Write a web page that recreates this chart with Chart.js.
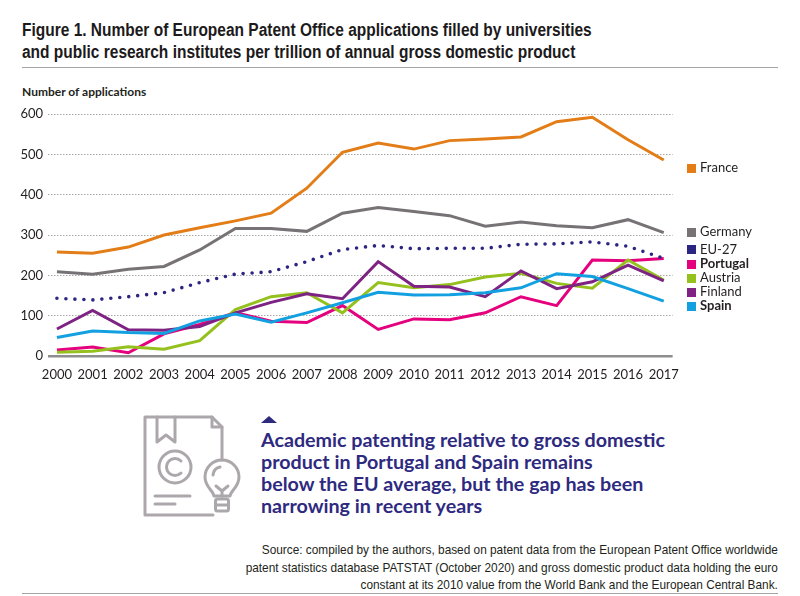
<!DOCTYPE html>
<html>
<head>
<meta charset="utf-8">
<script src="https://cdn.jsdelivr.net/npm/chart.js@4.4.1/dist/chart.umd.min.js"></script>
<style>
  html, body { margin: 0; padding: 0; background: #fff; }
  #page { position: relative; width: 800px; height: 596px; overflow: hidden; font-family: Lato, sans-serif; color: #231f20; }
  .abs { position: absolute; }
  /* no condensed face installed, so squeeze the regular one */
  #title { left: 22px; top: 19px; font-family: 'Liberation Sans', sans-serif; font-weight: bold; font-size: 17.5px; line-height: 22px; color: #1c1a1b; white-space: nowrap; transform: scaleX(0.885); transform-origin: left top; }
  .rule { left: 22px; width: 756px; height: 0; border-top: 1.5px solid #a3a3a3; }
  #ylab { left: 22px; top: 84px; font-weight: bold; font-size: 12px; }
  #wrap { left: 0; top: 100px; width: 690px; height: 290px; }
  .leg { left: 687px; font-size: 13px; line-height: 14px; white-space: nowrap; }
  .leg i { display: inline-block; width: 9px; height: 9px; margin-right: 4px; vertical-align: -0.5px; }
  #callout { left: 261px; top: 429px; font-weight: bold; font-size: 19.7px; line-height: 22px; color: #2e2a80; white-space: nowrap; }
  #source { right: 22px; top: 541px; text-align: right; font-family: 'Liberation Sans', sans-serif; font-size: 13px; line-height: 17.5px; color: #231f20; white-space: nowrap; transform: scaleX(0.91); transform-origin: right top; }
</style>
</head>
<body>
<div id="page">
  <div id="title" class="abs">Figure 1. Number of European Patent Office applications filled by universities<br>and public research institutes per trillion of annual gross domestic product</div>
  <div class="abs rule" style="top:67px"></div>
  <div id="ylab" class="abs">Number of applications</div>
  <div id="wrap" class="abs"><canvas id="chart"></canvas></div>
  <div id="legend"></div>

  <svg class="abs" style="left:138px;top:410px" width="106" height="112" viewBox="138 410 106 112" fill="none" stroke="#aca7ab" stroke-width="3" stroke-linejoin="round" stroke-linecap="round">
    <path d="M213 515 H145 V417 H212 L222 427 V460"/>
    <path d="M212 417 V427 H222"/>
    <path d="M157 417 V442 L166 435 L175 442 V417"/>
    <circle cx="175" cy="467" r="16"/>
    <path d="M181 461 A8.5 8.5 0 1 0 181 473"/>
    <path d="M155 496 H190 M155 504 H175"/>
    <path d="M214 496 C213 490 205 487 205 477 A17 17 0 0 1 239 477 C239 487 231 490 230 496 Z"/>
    <path d="M213 475 A9 9 0 0 1 220 467"/>
    <path d="M216 486 L222 491 L228 486 M222 491 V496"/>
    <rect x="215.5" y="499" width="13" height="12" rx="2"/>
    <path d="M215.5 505 H228.5"/>
  </svg>
  <svg class="abs" style="left:259px;top:414px" width="20" height="12"><polygon points="2,9 10,2 18,9" fill="#2e2a80"/></svg>
  <div id="callout" class="abs">Academic patenting relative to gross domestic<br>product in Portugal and Spain remains<br>below the EU average, but the gap has been<br>narrowing in recent years</div>

  <div id="source" class="abs">Source: compiled by the authors, based on patent data from the European Patent Office worldwide<br>patent statistics database PATSTAT (October 2020) and gross domestic product data holding the euro<br>constant at its 2010 value from the World Bank and the European Central Bank.</div>
  <div class="abs rule" style="top:593px"></div>
</div>

<script>
// ── Data ──
const YEARS = [2000, 2001, 2002, 2003, 2004, 2005, 2006, 2007, 2008, 2009, 2010, 2011, 2012, 2013, 2014, 2015, 2016, 2017];
const Y_TICKS = [0, 100, 200, 300, 400, 500, 600];

const FRANCE   = [258, 255, 270, 300, 318, 335, 354, 416, 505, 528, 513, 534, 538, 543, 581, 592, 536, 486];
const GERMANY  = [209, 203, 215, 222, 263, 316, 316, 309, 354, 368, 358, 348, 322, 332, 323, 318, 338, 306];
const EU27     = [143, 139, 147, 157, 182, 203, 209, 234, 264, 274, 266, 267, 267, 277, 278, 283, 272, 242];
const PORTUGAL = [15, 22, 8, 55, 78, 108, 86, 83, 125, 66, 92, 90, 107, 147, 125, 238, 236, 242];
const AUSTRIA  = [9, 12, 23, 17, 38, 115, 147, 157, 107, 182, 169, 177, 196, 205, 180, 168, 238, 188];
const FINLAND  = [67, 113, 65, 64, 73, 107, 133, 154, 142, 234, 173, 171, 147, 211, 167, 184, 225, 186];
const SPAIN    = [46, 62, 58, 56, 87, 104, 84, 107, 132, 158, 151, 152, 157, 169, 204, 197, 167, 136];

const COLORS = {
  france: '#e27d17',
  germany: '#777275',
  eu: '#2b2682',
  portugal: '#e5007d',
  austria: '#95c11f',
  finland: '#7e2283',
  spain: '#13a0e1',
  grid: '#a8a8a8',
  axis: '#8e8e8e',
  text: '#231f20',
};

// legend: label, colour, bold, y centre (page px)
const LEGEND = [
  ['France', COLORS.france, false, 167],
  ['Germany', COLORS.germany, false, 231],
  ['EU-27', COLORS.eu, false, 248.5],
  ['Portugal', COLORS.portugal, true, 263],
  ['Austria', COLORS.austria, false, 277],
  ['Finland', COLORS.finland, false, 291],
  ['Spain', COLORS.spain, true, 305],
];

const legendEl = document.getElementById('legend');
for (const [label, color, bold, y] of LEGEND) {
  const d = document.createElement('div');
  d.className = 'abs leg';
  d.style.top = (y - 7) + 'px';
  if (bold) d.style.fontWeight = 'bold';
  d.innerHTML = `<i style="background:${color}"></i>${label}`;
  legendEl.appendChild(d);
}

const pts = (vals) => vals.map((v, i) => ({ x: YEARS[i], y: v }));

function line(label, vals, color, extra = {}) {
  return {
    label, data: pts(vals), borderColor: color, backgroundColor: color,
    borderWidth: 3, pointRadius: 0, tension: 0, borderJoinStyle: 'miter', ...extra,
  };
}

const canvas = document.getElementById('chart');
canvas.width = 690; canvas.height = 290;

new Chart(canvas, {
  type: 'line',
  data: {
    datasets: [
      line('EU-27', EU27, COLORS.eu, { borderDash: [0, 9], borderCapStyle: 'round', borderWidth: 3.6 }),
      line('Spain', SPAIN, COLORS.spain),
      line('Finland', FINLAND, COLORS.finland),
      line('Austria', AUSTRIA, COLORS.austria),
      line('Portugal', PORTUGAL, COLORS.portugal),
      line('Germany', GERMANY, COLORS.germany),
      line('France', FRANCE, COLORS.france),
    ],
  },
  options: {
    responsive: false, animation: false, devicePixelRatio: 1,
    layout: { padding: { left: 0, right: 13, top: 14, bottom: 0 } },
    plugins: { legend: { display: false }, tooltip: { enabled: false } },
    scales: {
      x: {
        type: 'linear', min: 1999.75, max: 2017.25,
        afterBuildTicks: (s) => { s.ticks = YEARS.map(v => ({ value: v })); },
        afterFit: (s) => { s.height = 34; },
        grid: { display: false, drawTicks: false },
        border: { display: false },
        ticks: { color: COLORS.text, padding: 11, maxRotation: 0, autoSkip: false, font: { family: 'Lato', size: 13 }, callback: (v) => String(v) },
      },
      y: {
        min: 0, max: 600,
        afterBuildTicks: (s) => { s.ticks = Y_TICKS.map(v => ({ value: v })); },
        afterFit: (s) => { s.width = 48; },
        grid: {
          drawTicks: false,
          color: (c) => c.tick && c.tick.value === 0 ? COLORS.axis : COLORS.grid,
          lineWidth: (c) => c.tick && c.tick.value === 0 ? 2.5 : 1,
        },
        border: { display: false, dash: (c) => c.tick && c.tick.value === 0 ? [] : [1.5, 1.5] },
        ticks: { color: COLORS.text, padding: 5, font: { family: 'Lato', size: 13 } },
      },
    },
  },
});
</script>
</body>
</html>
